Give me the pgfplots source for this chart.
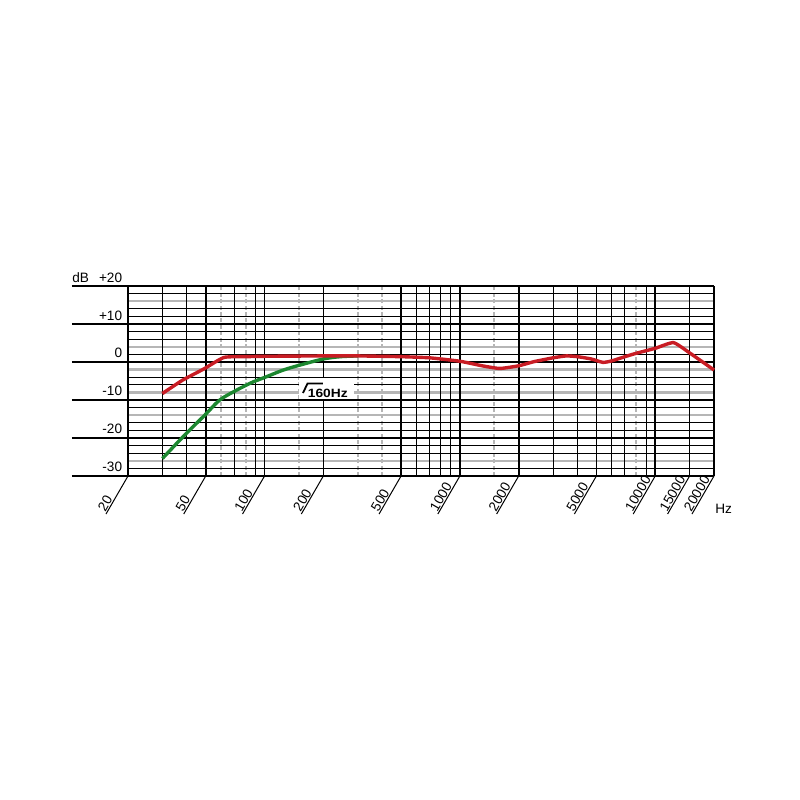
\documentclass[border=0pt]{standalone}
\usepackage{pgfplots}
\pgfplotsset{compat=1.18}
\usepackage{fontspec}
\setmainfont{Liberation Sans}
\definecolor{curvered}{RGB}{200,28,36}
\definecolor{curvegreen}{RGB}{28,135,48}
\definecolor{gridgray}{RGB}{182,182,182}
\newcommand{\lblfont}{\fontsize{6.8}{8}\selectfont}

\pgfplotstableread{
f db
30 -8.3
38 -4.8
49 -1.8
62 1.2
80 1.4
100 1.5
200 1.6
300 1.6
500 1.4
700 1.1
1000 0.2
1300 -1.0
1600 -1.7
2000 -1.0
2400 0.1
3000 1.1
3500 1.6
4000 1.4
4700 0.8
5400 -0.1
6000 0.3
7000 1.4
8000 2.3
10000 3.6
12400 5.1
15000 2.4
20000 -2.1
}\redcurve

\pgfplotstableread{
f db
30 -25.4
38.4 -19.6
49.4 -14.0
59 -10.0
72 -7.4
86 -5.4
102 -3.9
125 -2.1
152 -0.8
200 0.8
244 1.4
300 1.6
}\greencurve

\begin{document}
\begin{tikzpicture}
% page frame (pixel coordinates of the 800x800 reference)
\begin{scope}[x=0.5pt,y=-0.5pt,shift={(-128,-476)}]
  \path[use as bounding box] (0,0) rectangle (800,800);
\end{scope}

% grid
\begin{axis}[at={(0pt,0pt)}, anchor=south west,
    scale only axis, width=293pt, height=95pt,
    xmode=log, xmin=20, xmax=20000, ymin=-30, ymax=20,
    hide axis, clip=false]
  \pgfplotsinvokeforeach{16,4,-2,-8,-14,-26}{
    \draw[gridgray, line width=1.2pt] (axis cs:20,#1) -- (axis cs:20000,#1);
  }
  \pgfplotsinvokeforeach{60,80,150,300,400,1500,8000}{
    \draw[gridgray, line width=0.9pt, dash pattern=on 2pt off 1.2pt] (axis cs:#1,-30) -- (axis cs:#1,20);
  }
  \pgfplotsinvokeforeach{18,14,12,8,6,2,-4,-6,-12,-16,-18,-22,-24,-28}{
    \draw[black, line width=0.5pt] (axis cs:20,#1) -- (axis cs:20000,#1);
  }
  \pgfplotsinvokeforeach{30,40,70,90,200,600,700,800,900,3000,4000,6000,7000,9000,15000}{
    \draw[black, line width=0.5pt] (axis cs:#1,-30) -- (axis cs:#1,20);
  }
  \pgfplotsinvokeforeach{20,50,100,500,1000,2000,5000,10000,20000}{
    \draw[black, line width=0.85pt] (axis cs:#1,-30) -- (axis cs:#1,20);
  }
  \pgfplotsinvokeforeach{20,50,100,200,500,1000,2000,5000,10000,15000,20000}{
    \draw[black, line width=0.5pt] (axis cs:#1,-30) -- ++(-11pt,-19pt)
      node[anchor=south west, rotate=60, inner sep=0.4pt, font=\lblfont] {#1};
  }
\end{axis}

% thick horizontal lines and labels (pixel coordinates)
\begin{scope}[x=0.5pt,y=-0.5pt,shift={(-128,-476)}]
  \foreach \yy in {286,324,362,400,438,476}{
    \draw[black, line width=0.9pt] (72,\yy) -- (714,\yy);
  }
  \node[anchor=base west, inner sep=0, font=\lblfont] at (72,282.5) {dB};
  \node[anchor=base east, inner sep=0, font=\lblfont] at (122.5,282.5) {+20};
  \node[anchor=base east, inner sep=0, font=\lblfont] at (122.5,320) {+10};
  \node[anchor=base east, inner sep=0, font=\lblfont] at (122.5,357.5) {0};
  \node[anchor=base east, inner sep=0, font=\lblfont] at (122.5,395.5) {-10};
  \node[anchor=base east, inner sep=0, font=\lblfont] at (122.5,433.5) {-20};
  \node[anchor=base east, inner sep=0, font=\lblfont] at (122.5,471.5) {-30};
  \node[anchor=base west, inner sep=0, font=\lblfont] at (715,513) {Hz};
  % filter annotation box
  \fill[white] (299,378) rectangle (354,399);
  \draw[black, line width=0.9pt] (303,393) -- (307.5,383.5) -- (323,383.5);
  \node[anchor=base west, inner sep=0, font=\bfseries\fontsize{6}{7}\selectfont] at (307.5,397.5) {\scalebox{1.15}[1]{160Hz}};
\end{scope}

% curves
\begin{axis}[at={(0pt,0pt)}, anchor=south west,
    scale only axis, width=293pt, height=95pt,
    xmode=log, xmin=20, xmax=20000, ymin=-30, ymax=20,
    hide axis, clip=false]
  \addplot[curvegreen, line width=1.7pt, smooth, tension=0.5] table[x=f,y=db] {\greencurve};
  \addplot[curvered, line width=1.7pt, smooth, tension=0.3] table[x=f,y=db] {\redcurve};
\end{axis}
\end{tikzpicture}
\end{document}
